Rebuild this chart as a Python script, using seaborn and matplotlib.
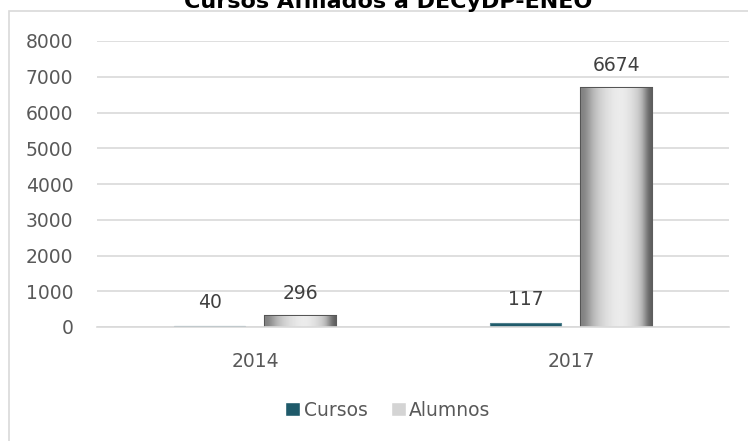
import numpy as np
import pandas as pd
import seaborn as sns
import matplotlib.pyplot as plt
from matplotlib.patches import Rectangle

years = ["2014", "2017"]
cursos = [40, 117]
alumnos = [296, 6674]
series = ["Cursos", "Alumnos"]
yticks = [0, 1000, 2000, 3000, 4000, 5000, 6000, 7000, 8000]

df = pd.DataFrame({
    "year": years * 2,
    "serie": [series[0]] * len(years) + [series[1]] * len(years),
    "value": cursos + alumnos,
})

sns.set_theme(style="white")
plt.rcParams["font.family"] = ["DejaVu Sans"]
txt = "#595959"
grid = "#d9d9d9"
fs = 13.5

fig = plt.figure(figsize=(7.48, 4.41), dpi=100)
ax = fig.add_axes([97 / 748, 1 - 327 / 441, (729 - 97) / 748, (327 - 41) / 441])

sns.barplot(data=df, x="year", y="value", hue="serie", hue_order=series,
            palette=["#1f5a6a", "#d4d4d4"], width=0.573, gap=0.215,
            saturation=1, ax=ax, legend=True)

ax.set_ylim(0, 8000)
ax.set_yticks(yticks)
ax.yaxis.grid(True, color=grid, lw=1.2)
ax.set_axisbelow(True)
for s in ["top", "right", "left"]:
    ax.spines[s].set_visible(False)
ax.spines["bottom"].set_color(grid)
ax.spines["bottom"].set_linewidth(1.2)
ax.tick_params(axis="y", length=0, pad=17, labelsize=fs, labelcolor=txt)
ax.tick_params(axis="x", length=0, pad=18, labelsize=fs, labelcolor=txt)
ax.set_xlabel("")
ax.set_ylabel("")

# thin Cursos bars still visible
for p in ax.containers[0]:
    p.set_edgecolor("#4f7f8c")
    p.set_linewidth(0.8)

# beveled grey look for Alumnos bars
grad = np.array([[0.5, 0.7, 0.8, 0.87, 0.91, 0.93, 0.9, 0.84, 0.74, 0.35]])
for p in ax.containers[1]:
    x0, w, h = p.get_x(), p.get_width(), p.get_height()
    im = ax.imshow(grad, cmap="gray", vmin=0, vmax=1, aspect="auto",
                   extent=[x0, x0 + w, 0, h], zorder=p.get_zorder() + 0.1,
                   interpolation="bicubic")
    im.set_clip_path(p)
    p.set_edgecolor("#555555")
    p.set_linewidth(1.5)
ax.set_xlim(-0.5, 1.5)

for c in ax.containers:
    ax.bar_label(c, padding=10, fontsize=fs, color="#404040")

h, l = ax.get_legend_handles_labels()
ax.legend_.remove()
fig.legend(h, l, loc="center", bbox_to_anchor=(388 / 748, 1 - 410 / 441),
           ncol=2, frameon=False, fontsize=fs, labelcolor=txt,
           handlelength=0.8, handleheight=0.8, handletextpad=0.2,
           columnspacing=1.2)

fig.text(388 / 748, 1 - 8 / 441, "Cursos Afiliados a DECyDP-ENEO",
         ha="center", va="baseline", fontsize=16, fontweight="bold", color="black")

fig.patches.append(Rectangle((8.5 / 748, -0.05), 1.0, 1 - 11 / 441 + 0.05,
                             transform=fig.transFigure, fill=False,
                             edgecolor=grid, lw=1.2))

fig.savefig("out.png", dpi=100)
